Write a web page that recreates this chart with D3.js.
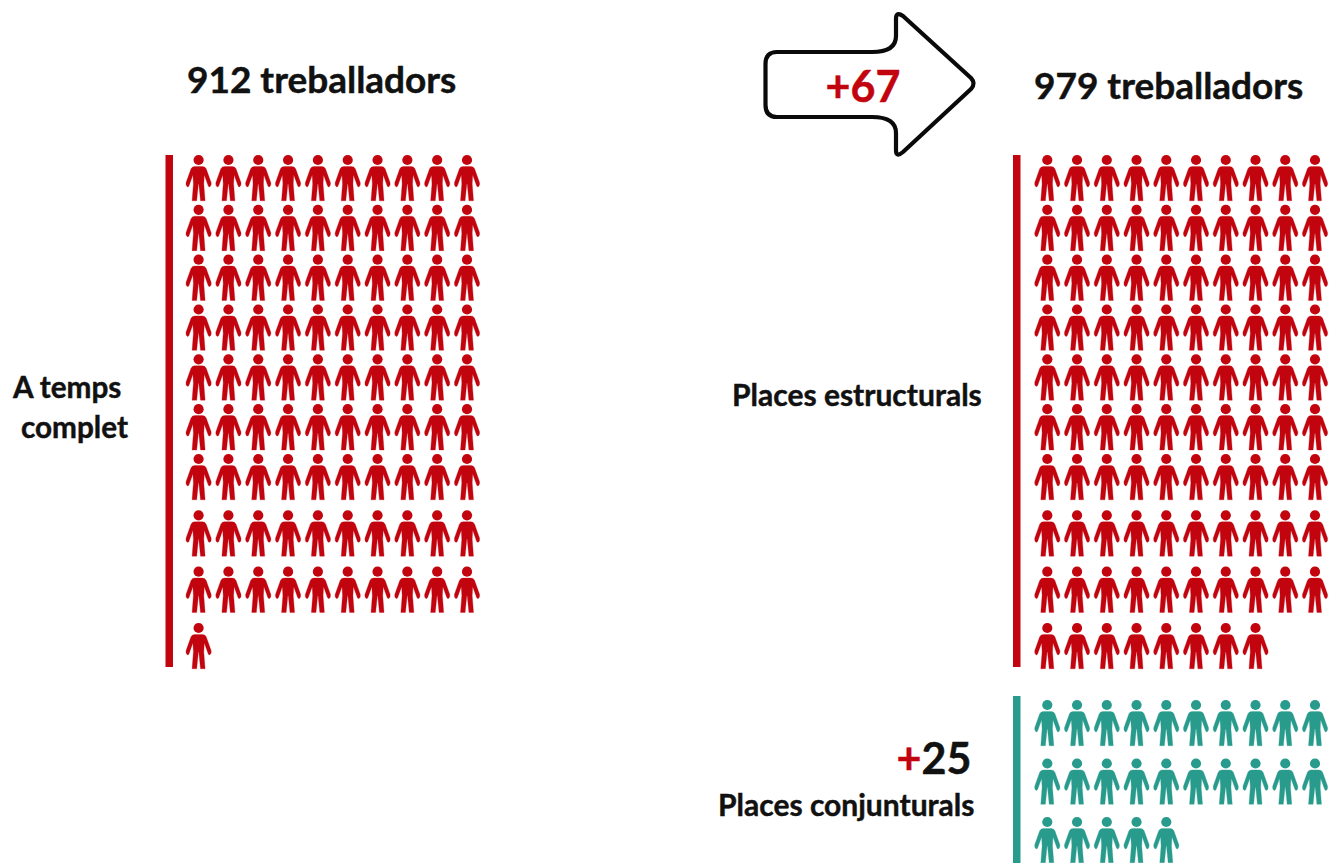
<!DOCTYPE html>
<html><head><meta charset="utf-8">
<style>html,body{margin:0;padding:0;background:#fff}svg{display:block}text{font-family:Lato,sans-serif;font-weight:700;fill:#111;stroke:#111;stroke-width:.45px}</style>
<script src="https://cdn.jsdelivr.net/npm/d3@7"></script></head>
<body><svg id="c" width="1332" height="863"></svg>
<script>
const leftTotal = 912, rightTotal = 979, change = 67, temporaryChange = 25;
const groupNames = ["A temps complet", "Places estructurals", "Places conjunturals"];
const iconCounts = [91, 98, 25];
const perRow = 10;

const svg = d3.select("#c");
const RED = "#c2040e", TEAL = "#289b8d";

// scales: piecewise row scales follow the uneven row spacing of the picture
const colL = d3.scaleLinear().domain([0, 9]).range([198.6, 467]);
const colR = d3.scaleLinear().domain([0, 9]).range([1047.3, 1315]);
const rowMain = d3.scaleLinear().domain([0, 6, 9]).range([160, 459, 628]);
const rowTeal = d3.scaleLinear().domain([0, 2]).range([705, 822]);

const person = "M-3.8,6.4 L3.8,6.4 Q6.4,6.4 7.6,8.8 L12.6,22.8 Q13,25.6 11.4,26.8 Q10,27.2 9.5,25.6 L5.7,15 L5.2,24 L6.5,40.8 L1.9,40.8 L0.2,24 L-0.2,24 L-1.9,40.8 L-6.5,40.8 L-5.2,24 L-5.7,15 L-9.5,25.6 Q-10,27.2 -11.4,26.8 Q-13,25.6 -12.6,22.8 L-7.6,8.8 Q-6.4,6.4 -3.8,6.4 Z";

function drawGroup(count, col, row, color) {
  const g = svg.append("g");
  const nodes = g.selectAll("g").data(d3.range(count)).join("g")
    .attr("transform", i => `translate(${col(i % perRow)},${row(Math.floor(i / perRow))})`)
    .attr("fill", color);
  nodes.append("circle").attr("r", 5.1);
  nodes.append("path").attr("d", person).attr("stroke", color).attr("stroke-width", .3);
}
drawGroup(iconCounts[0], colL, rowMain, RED);
drawGroup(iconCounts[1], colR, rowMain, RED);
drawGroup(iconCounts[2], colR, rowTeal, TEAL);

// vertical bars
svg.append("rect").attr("x", 165.5).attr("y", 155).attr("width", 7.5).attr("height", 512).attr("fill", RED);
svg.append("rect").attr("x", 1013).attr("y", 155).attr("width", 7.5).attr("height", 512).attr("fill", RED);
svg.append("rect").attr("x", 1013).attr("y", 696).attr("width", 7.5).attr("height", 167).attr("fill", TEAL);

// arrow
svg.append("path")
  .attr("d", "M777,52 L872,52 Q896,52 896,36 L896,19 Q896,11 903,16 L971,78 Q976,83.5 971,89 L903,152 Q896,158 896,150 L896,133 Q896,117 872,117 L777,117 Q765.5,117 765.5,105 L765.5,64 Q765.5,52 777,52 Z")
  .attr("fill", "#fff").attr("stroke", "#0a0a0a").attr("stroke-width", 4.2).attr("stroke-linejoin", "round");

function label(x, y, size, txt, color) {
  const t = svg.append("text").attr("x", x).attr("y", y).attr("font-size", size).text(txt);
  if (color) t.style("fill", color).style("stroke", color);
  return t;
}
label(187, 93, 37, `${leftTotal} treballadors`);
label(1034, 99, 37, `${rightTotal} treballadors`);
label(825.5, 102, 43, `+${change}`, RED);
const [a, b] = ["A temps", "complet"];
label(13, 398, 29.7, a);
label(21, 438, 29.7, b);
label(732, 406, 30, groupNames[1]);
label(718, 816, 30, groupNames[2]);
const t25 = label(896.5, 774, 43, "+", RED);
t25.append("tspan").style("fill", "#111").style("stroke", "#111").text(temporaryChange);
</script></body></html>
